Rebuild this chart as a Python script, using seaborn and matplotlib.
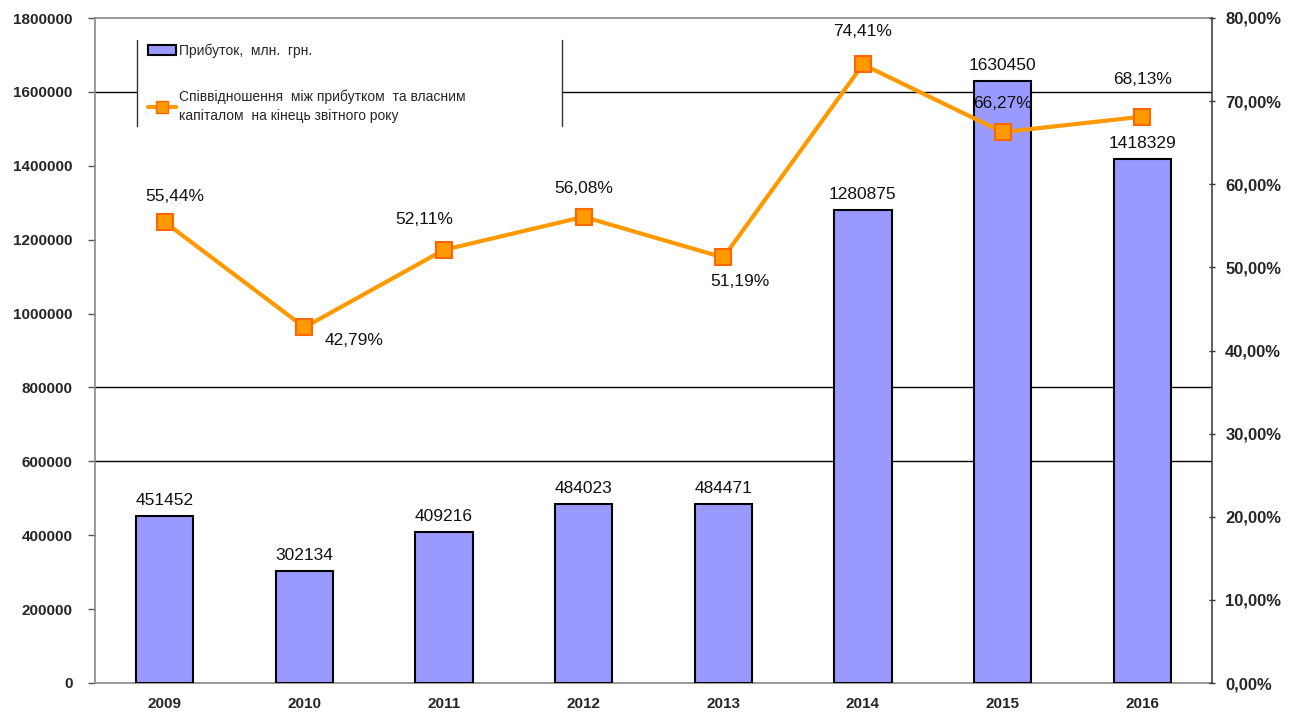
import numpy as np
import pandas as pd
import seaborn as sns
import matplotlib.pyplot as plt
from matplotlib.patches import Patch, Rectangle
from matplotlib.lines import Line2D
from matplotlib.ticker import FuncFormatter, MultipleLocator

# --------------- data --------------- #
years = ["2009", "2010", "2011", "2012", "2013", "2014", "2015", "2016"]
profit = [451452, 302134, 409216, 484023, 484471, 1280875, 1630450, 1418329]
ratio = [55.44, 42.79, 52.11, 56.08, 51.19, 74.41, 66.27, 68.13]
# where each percent label sits relative to its marker (pixels)
ratio_offsets = [(10, 26), (50, -13), (-20, 30), (0, 28), (17, -24), (0, 33), (0, 29), (0, 37)]
grid_levels = [600000, 800000, 1600000]

bar_label = "Прибуток,  млн.  грн."
line_label = "Співвідношення  між прибутком  та власним\nкапіталом  на кінець звітного року"

sns.set_theme(style="white")
plt.rcParams["font.family"] = ["Liberation Sans", "DejaVu Sans"]

df = pd.DataFrame({"year": years, "profit": profit, "ratio": ratio})

fig = plt.figure(figsize=(13.02, 7.13), dpi=100)
ax = fig.add_axes([95 / 1302, 1 - 683 / 713, 1117 / 1302, 665 / 713])

sns.barplot(data=df, x="year", y="profit", color="#9999FF", saturation=1,
            edgecolor="black", linewidth=1.5, width=0.41, ax=ax, zorder=3)
ax.set_ylim(0, 1800000)
ax.set_xlim(-0.5, 7.5)
ax.yaxis.set_major_locator(MultipleLocator(200000))
ax.yaxis.set_major_formatter(FuncFormatter(lambda v, p: f"{int(v)}"))
for g in grid_levels:
    ax.axhline(g, color="black", lw=1, zorder=1)

# bar value labels
for i, v in enumerate(profit):
    ax.annotate(str(v), (i, v), xytext=(0, 8), textcoords="offset pixels",
                ha="center", va="bottom", fontsize=12.5, color="#111111", zorder=6)

ax.set_xlabel("")
ax.set_ylabel("")
ax.set_xticks(np.arange(len(years)))
ax.set_xticklabels(years, fontsize=11, fontweight="bold")
ax.set_xticks(np.arange(len(years) + 1) - 0.5, minor=True)
ax.tick_params(axis="x", which="major", length=0, pad=10)
ax.tick_params(axis="x", which="minor", length=5, width=1.2, color="black", direction="out")
ax.tick_params(axis="y", length=5, width=1, color="#555555", direction="out", labelsize=11, pad=11)
for lab in ax.get_yticklabels():
    lab.set_fontweight("bold")
for s in ["left", "bottom", "top"]:
    ax.spines[s].set_color("#888888")
    ax.spines[s].set_linewidth(1.2)
ax.spines["right"].set_visible(False)

# legend box: white block with only side borders
ax.add_patch(Rectangle((0.0376, 0.838), 0.3805, 0.129, transform=ax.transAxes,
                       facecolor="white", edgecolor="none", zorder=2))
for xx in [0.0376, 0.4181]:
    ax.plot([xx, xx], [0.838, 0.967], transform=ax.transAxes, color="#333333", lw=1, zorder=2)

# secondary axis with ratio line
ax2 = ax.twinx()
sns.lineplot(data=df, x="year", y="ratio", color="#FF9900", lw=3, marker="s",
             markersize=11, markerfacecolor="#FF9900", markeredgecolor="#FF6600",
             markeredgewidth=1.5, ax=ax2, zorder=4)
ax2.set_ylim(0, 80)
ax2.set_xlim(-0.5, 7.5)
ax2.yaxis.set_major_locator(MultipleLocator(10))
ax2.yaxis.set_major_formatter(FuncFormatter(lambda v, p: f"{v:.2f}%".replace(".", ",")))
ax2.set_ylabel("")
ax2.tick_params(axis="y", length=5, width=1, color="#333333", direction="inout", labelsize=12, pad=7)
for lab in ax2.get_yticklabels():
    lab.set_fontweight("bold")
for s in ["left", "bottom", "top"]:
    ax2.spines[s].set_visible(False)
ax2.spines["right"].set_color("#444444")
ax2.spines["right"].set_linewidth(1.2)

for i, (v, off) in enumerate(zip(ratio, ratio_offsets)):
    ax2.annotate(f"{v:.2f}%".replace(".", ","), (i, v), xytext=off, textcoords="offset pixels",
                 ha="center", va="center", fontsize=12.5, color="#111111", zorder=6)

handles = [Patch(facecolor="#9999FF", edgecolor="black", linewidth=1.5),
           Line2D([0], [0], color="#FF9900", lw=3, marker="s", markersize=8,
                  markerfacecolor="#FF9900", markeredgecolor="#FF6600")]
leg = ax2.legend(handles, [bar_label, line_label], loc="upper left",
                 bbox_to_anchor=(0.0425, 0.97), frameon=False, fontsize=10,
                 handlelength=2.0, handletextpad=0.2, labelspacing=2.3, borderaxespad=0)
for t in leg.get_texts():
    t.set_linespacing(1.4)

fig.savefig("out.png", dpi=100)
